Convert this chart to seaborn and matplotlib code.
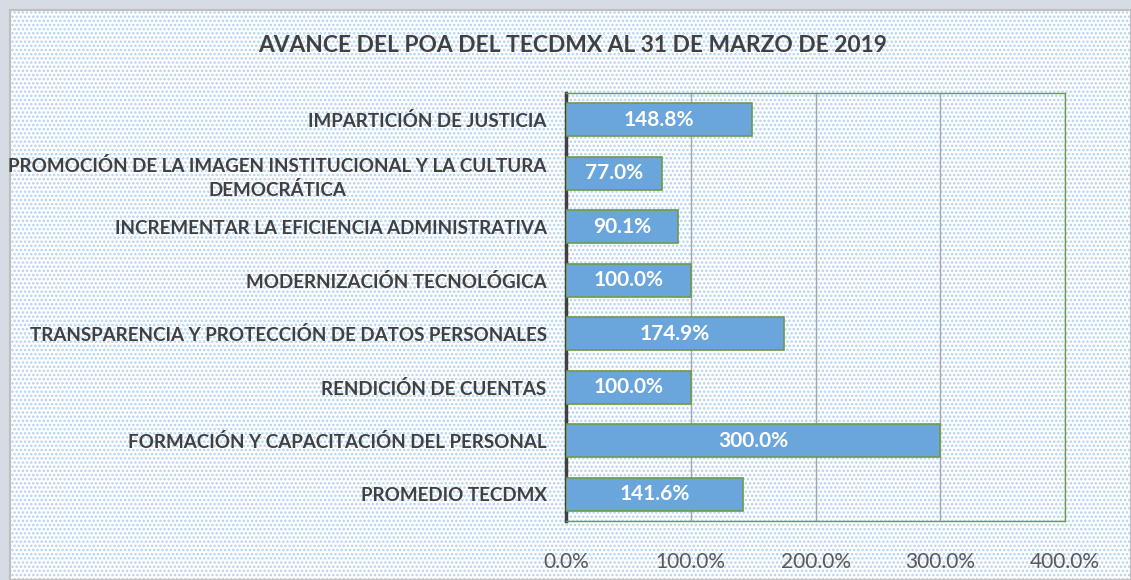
import matplotlib
matplotlib.use("Agg")
import matplotlib.pyplot as plt
import matplotlib.patches as mpatches
import seaborn as sns
import pandas as pd
from matplotlib.ticker import FuncFormatter

# datos del POA
categorias = [
    "IMPARTICIÓN DE JUSTICIA",
    "PROMOCIÓN DE LA IMAGEN INSTITUCIONAL Y LA CULTURA\nDEMOCRÁTICA",
    "INCREMENTAR LA EFICIENCIA ADMINISTRATIVA",
    "MODERNIZACIÓN TECNOLÓGICA",
    "TRANSPARENCIA Y PROTECCIÓN DE DATOS PERSONALES",
    "RENDICIÓN DE CUENTAS",
    "FORMACIÓN Y CAPACITACIÓN DEL PERSONAL",
    "PROMEDIO TECDMX",
]
avance = [148.8, 77.0, 90.1, 100.0, 174.9, 100.0, 300.0, 141.6]
xticks = [0, 100, 200, 300, 400]
titulo = "AVANCE DEL POA DEL TECDMX AL 31 DE MARZO DE 2019"

df = pd.DataFrame({"categoria": categorias, "avance": avance})

sns.set_style("white")
plt.rcParams["font.family"] = ["Lato", "DejaVu Sans"]
plt.rcParams["hatch.linewidth"] = 1.2

fig = plt.figure(figsize=(11.31, 5.80), dpi=100)
fig.patch.set_facecolor("#d6dce4")

# fondo punteado del área del gráfico
x0, y1 = 10 / 1131, 1 - 10 / 580
fondo = mpatches.Rectangle((x0, 0), 1 - x0, y1, transform=fig.transFigure,
                           facecolor="white", edgecolor="#b3d1f1", hatch="....",
                           lw=0, zorder=-2)
borde = mpatches.Rectangle((x0, 0), 1 - x0, y1, transform=fig.transFigure,
                           facecolor="none", edgecolor="#bfbfbf", lw=1.5, zorder=-1)
fig.patches.extend([fondo, borde])

ax = fig.add_axes([566 / 1131, 59 / 580, (1065 - 566) / 1131, (521 - 93) / 580])
ax.set_zorder(1)
ax.patch.set_alpha(0)

sns.barplot(data=df, x="avance", y="categoria", orient="h", ax=ax,
            color="#6aa5dc", edgecolor="#6e9a4a", linewidth=1.2,
            width=0.62, saturation=1, zorder=3)

for p, v in zip(ax.patches, avance):
    ax.text(p.get_x() + p.get_width() / 2, p.get_y() + p.get_height() / 2,
            f"{v:.1f}%", ha="center", va="center", color="white",
            fontsize=15, fontweight="bold", zorder=4)

ax.set_xlim(0, 400)
ax.set_xticks(xticks)
ax.xaxis.set_major_formatter(FuncFormatter(lambda x, _: f"{x:.1f}%"))
ax.grid(axis="x", color="#a6a6a6", lw=1, zorder=1)
ax.set_xlabel("")
ax.set_ylabel("")
ax.tick_params(axis="x", length=0, pad=22, labelsize=15, labelcolor="#595959")
ax.tick_params(axis="y", length=0, pad=14, labelsize=13.5, labelcolor="#404040")
for lbl in ax.get_yticklabels():
    lbl.set_fontweight("bold")
    lbl.set_multialignment("center")
    lbl.set_linespacing(1.45)

for s in ["top", "right", "bottom"]:
    ax.spines[s].set_color("#6e9a4a")
    ax.spines[s].set_linewidth(1)
ax.spines["left"].set_color("#404040")
ax.spines["left"].set_linewidth(2.5)

fig.text(573 / 1131, 1 - 45 / 580, titulo, ha="center", va="center",
         fontsize=16.4, fontweight="bold", color="#404040")

fig.savefig("out.png", dpi=100, facecolor=fig.get_facecolor())
